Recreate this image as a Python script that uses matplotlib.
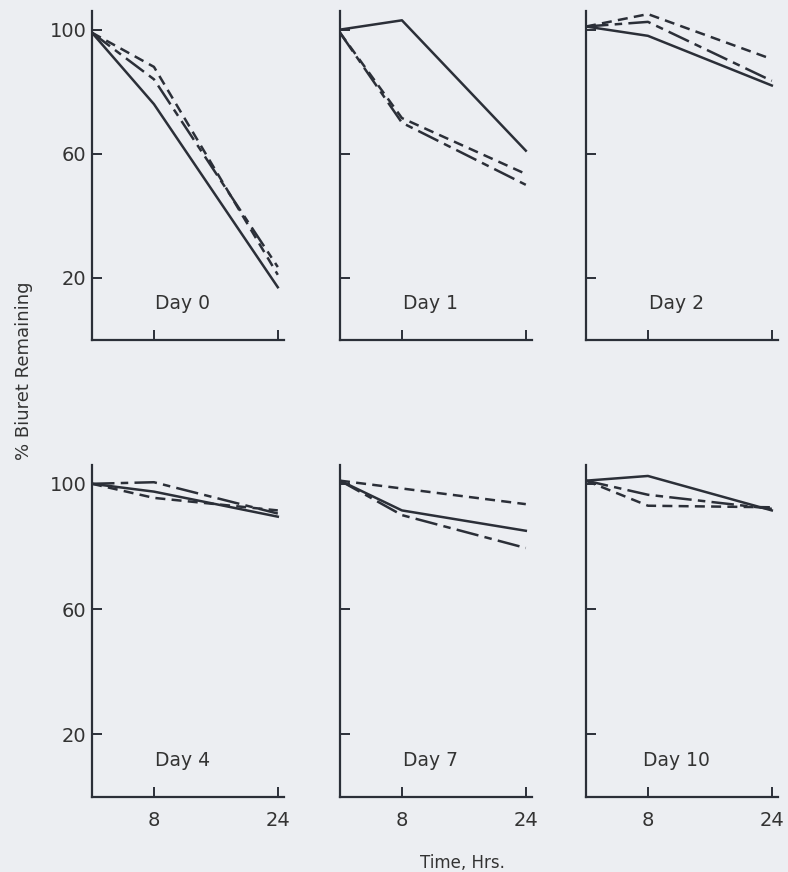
import matplotlib.pyplot as plt
import numpy as np

# sampling times (hours)
hours = [0, 8, 24]

days = ["Day 0", "Day 1", "Day 2", "Day 4", "Day 7", "Day 10"]

# % biuret remaining, one list per panel, three series each
solid = [
    [99, 76, 17],
    [100, 103, 61],
    [101, 98, 82],
    [100, 97.5, 89.5],
    [101, 91.5, 85],
    [101, 102.5, 91.5],
]
dashed = [
    [99, 88, 21],
    [99, 71.5, 53.5],
    [101, 105, 90.5],
    [100, 95.5, 91.5],
    [101, 98.5, 93.5],
    [101, 93, 92.5],
]
dashdot = [
    [99, 84, 23.5],
    [99, 70, 50],
    [101, 102.5, 83.5],
    [100, 100.5, 90.5],
    [101, 90, 79.5],
    [101, 96.5, 92],
]

ink = "#2b2f38"
bg = "#eceef2"

plt.rcParams["font.family"] = "DejaVu Sans"

W, H = 788, 872
fig = plt.figure(figsize=(W / 100, H / 100), dpi=100, facecolor=bg)

lefts = [92, 340, 586]
width = 192
rows = [(11, 340), (465, 797)]  # (top, bottom) in pixels

for i, day in enumerate(days):
    r, c = divmod(i, 3)
    top, bottom = rows[r]
    ax = fig.add_axes([lefts[c] / W, 1 - bottom / H, width / W, (bottom - top) / H])
    ax.set_facecolor(bg)

    ax.plot(hours, solid[i], color=ink, lw=1.8, linestyle="-")
    ax.plot(hours, dashed[i], color=ink, lw=1.8, linestyle=(0, (4, 2.5)))
    ax.plot(hours, dashdot[i], color=ink, lw=1.8, linestyle=(0, (9, 2.5, 3, 2.5)))

    ax.set_xlim(0, 24.8)
    ax.set_ylim(0, 106)
    for s in ["top", "right"]:
        ax.spines[s].set_visible(False)
    for s in ["left", "bottom"]:
        ax.spines[s].set_color(ink)
        ax.spines[s].set_linewidth(1.6)

    ax.set_xticks([8, 24])
    ax.set_yticks([20, 60, 100])
    ax.tick_params(axis="both", direction="in", length=7, width=1.4,
                   color=ink, labelcolor="#333333", labelsize=14)
    ax.tick_params(axis="x", pad=10)
    ax.tick_params(axis="y", pad=4)
    if r == 0:
        ax.set_xticklabels([])
    if c != 0:
        ax.set_yticklabels([])

    ax.text(0.47, 0.11, day, transform=ax.transAxes, ha="center", va="center",
            fontsize=13.5, color="#333333")

fig.text(24 / W, 1 - 371 / H, "% Biuret Remaining", rotation=90,
         ha="center", va="center", fontsize=13, color="#333333")
fig.text(462 / W, 1 - 863 / H, "Time, Hrs.", ha="center", va="center",
         fontsize=12, color="#333333")

fig.savefig("out.png", dpi=100, facecolor=bg)
